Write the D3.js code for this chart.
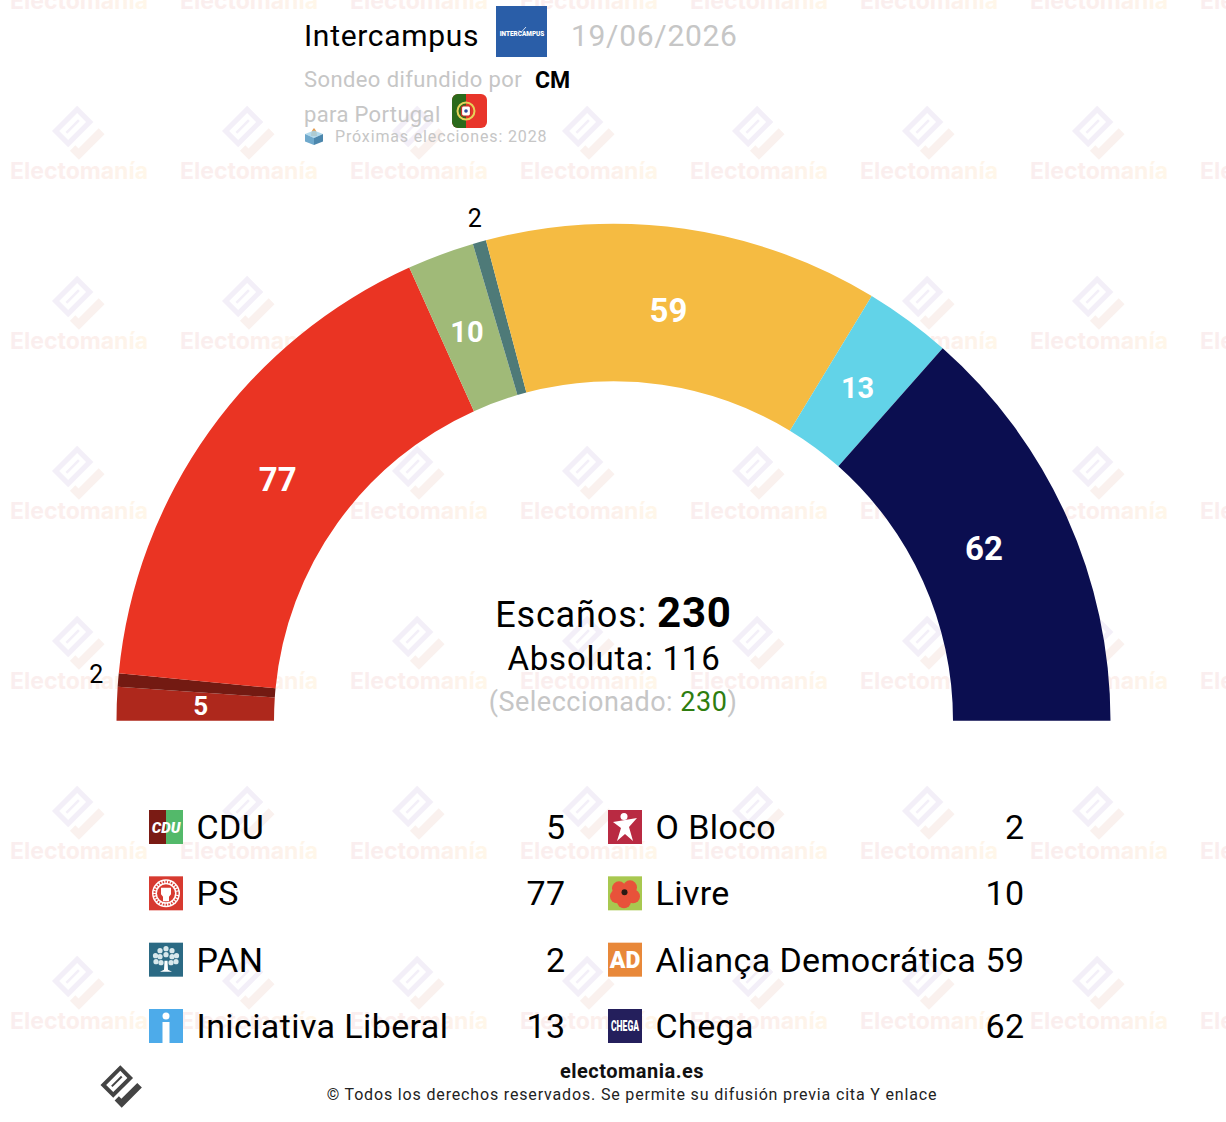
<!DOCTYPE html>
<html>
<head>
<meta charset="utf-8">
<script src="https://cdn.jsdelivr.net/npm/d3@7"></script>
<style>
  body { margin: 0; background: #fff; }
  svg { display: block; }
  text { font-family: Roboto, sans-serif; }
</style>
</head>
<body>
<div id="chart"></div>
<script>
// seats, in the order they sit on the arc
var parties = ["CDU", "O Bloco", "PS", "Livre", "PAN", "Aliança Democrática", "Iniciativa Liberal", "Chega"];
var seats = [5, 2, 77, 10, 2, 59, 13, 62];
var colours = ["#ae281c", "#731a12", "#ea3423", "#a0ba78", "#4e7a78", "#f5bb42", "#62d3e8", "#0b0e50"];

var totalSeats = 230;
var majority = 116;
var selected = 230;
var pollster = "Intercampus";
var pollDate = "19/06/2026";
var sponsor = "CM";
var nextElection = "2028";

var svg = d3.select("#chart").append("svg")
    .attr("width", 1226)
    .attr("height", 1122);

var defs = svg.append("defs");
var markGrad = defs.append("linearGradient").attr("id", "markGrad");
markGrad.append("stop").attr("offset", "0%").attr("stop-color", "#faeeef");
markGrad.append("stop").attr("offset", "60%").attr("stop-color", "#fcefec");
markGrad.append("stop").attr("offset", "100%").attr("stop-color", "#fff7e9");

// electomania logo, drawn along its own rotated axes
function drawLogo(g, frame, tick) {
    var r = g.append("g").attr("transform", "rotate(-45)");
    r.append("path")
        .attr("fill-rule", "evenodd")
        .attr("fill", frame)
        .attr("d", "M0,0H28V18H0Z M4,4V14H24V4Z");
    r.append("rect").attr("x", 7).attr("y", 8).attr("width", 14).attr("height", 2).attr("fill", frame);
    r.append("path").attr("fill", tick).attr("d", "M-1,21H5V24.5H27.5V31H-1Z");
}

// watermark grid
var markCols = d3.range(0, 8);
var markRows = d3.range(-1, 6);
var wm = svg.append("g");
markRows.forEach(function(row) {
    markCols.forEach(function(col) {
        var x = 79 + col * 170;
        var y = 171 + row * 170;
        var logo = wm.append("g").attr("transform", "translate(" + (x - 27) + "," + (y - 40) + ") scale(1.27)");
        drawLogo(logo, "#f3eff8", "#faf1ee");
        wm.append("text")
            .attr("x", x)
            .attr("y", y + 8)
            .attr("text-anchor", "middle")
            .attr("font-size", 23)
            .attr("font-weight", 700)
            .style("font-family", "Inter, sans-serif")
            .attr("fill", "url(#markGrad)")
            .text("Electomanía");
    });
});

// header
var header = svg.append("g");
header.append("text").attr("x", 304).attr("y", 46).attr("font-size", 30).attr("letter-spacing", 0.7).attr("fill", "#000").text(pollster);
header.append("rect").attr("x", 496).attr("y", 6).attr("width", 51).attr("height", 51).attr("fill", "#2a5ea8");
header.append("path").attr("d", "M519,30.5L521,32.5L526,27").attr("fill", "none").attr("stroke", "#fff").attr("stroke-width", 0.8);
header.append("text").attr("x", 522).attr("y", 36).attr("text-anchor", "middle").attr("font-size", 6.4).attr("font-weight", 900).attr("fill", "#fff").text("INTERCAMPUS");
header.append("text").attr("x", 571).attr("y", 46).attr("font-size", 30).attr("letter-spacing", 0.7).attr("fill", "#c6c6c6").text(pollDate);
header.append("text").attr("x", 304).attr("y", 87).attr("font-size", 22).attr("letter-spacing", 0.4).attr("fill", "#c6c6c6").text("Sondeo difundido por");
header.append("text").attr("x", 535).attr("y", 88).attr("font-size", 23).attr("font-weight", 700).attr("fill", "#000").text(sponsor);
header.append("text").attr("x", 304).attr("y", 122).attr("font-size", 22).attr("letter-spacing", 0.35).attr("fill", "#c6c6c6").text("para Portugal");
header.append("text").attr("x", 335).attr("y", 142).attr("font-size", 16).attr("letter-spacing", 0.85).attr("fill", "#c6c6c6").text("Próximas elecciones: " + nextElection);

// flag
var flag = header.append("g").attr("transform", "translate(452,94)");
flag.append("rect").attr("width", 35).attr("height", 34).attr("rx", 6).attr("fill", "#e8352a");
flag.append("path").attr("d", "M14,0H6A6,6 0 0 0 0,6V28A6,6 0 0 0 6,34H14Z").attr("fill", "#2b6a1c");
flag.append("circle").attr("cx", 14).attr("cy", 17).attr("r", 8.5).attr("fill", "none").attr("stroke", "#e6d35a").attr("stroke-width", 2);
flag.append("rect").attr("x", 9.5).attr("y", 12).attr("width", 9).attr("height", 10).attr("rx", 2).attr("fill", "#fff").attr("stroke", "#c8302a").attr("stroke-width", 1.2);
flag.append("circle").attr("cx", 14).attr("cy", 17).attr("r", 1.8).attr("fill", "#2c4a9a");

// ballot box
var box = header.append("g").attr("transform", "translate(305,127)");
box.append("path").attr("d", "M9,1C11.5,4 12,6 12,9H6C6,6 6.5,4 9,1Z").attr("fill", "#e49a4c");
box.append("path").attr("d", "M0,7L9,3.5L18,7L9,11Z").attr("fill", "#a5d3ea").attr("fill-opacity", 0.85);
box.append("path").attr("d", "M0,7L9,11V18L0,14.5Z").attr("fill", "#6fa9cc");
box.append("path").attr("d", "M18,7L9,11V18L18,14.5Z").attr("fill", "#4c87ad");

// parliament arc
var cx = 613.5, cy = 720.7;
var outerR = 497, innerR = 339.5, labelR = 413, outsideR = 522;

var colour = d3.scaleOrdinal(parties, colours);
var pie = d3.pie()
    .sort(null)
    .value(function(d) { return d.seats; })
    .startAngle(-Math.PI / 2)
    .endAngle(Math.PI / 2);
var arc = d3.arc().innerRadius(innerR).outerRadius(outerR);

var rows = parties.map(function(p, i) { return { party: p, seats: seats[i] }; });
var slices = pie(rows);

var chart = svg.append("g").attr("transform", "translate(" + cx + "," + cy + ")");
chart.selectAll("path")
    .data(slices)
    .enter()
    .append("path")
    .attr("d", arc)
    .attr("fill", function(d) { return colour(d.data.party); });

var labelSize = d3.scaleThreshold().domain([10, 20]).range([26, 29, 33]);
// small nudges, the original labels are not quite on the slice middle
var labelShift = {
    "O Bloco": [3, -3],
    "Livre": [-3, -1],
    "PAN": [2, 1],
    "Aliança Democrática": [-4, -1],
    "Iniciativa Liberal": [-1, 0],
    "Chega": [-6, -2]
};

chart.selectAll("text")
    .data(slices)
    .enter()
    .append("text")
    .attr("transform", function(d) {
        var mid = (d.startAngle + d.endAngle) / 2;
        var r = d.data.seats <= 2 ? outsideR : labelR;
        var shift = labelShift[d.data.party] || [0, 0];
        return "translate(" + (r * Math.sin(mid) + shift[0]) + "," + (-r * Math.cos(mid) + shift[1]) + ")";
    })
    .attr("text-anchor", "middle")
    .attr("dy", "0.32em")
    .attr("font-size", function(d) { return d.data.seats <= 2 ? 25 : labelSize(d.data.seats); })
    .attr("font-weight", function(d) { return d.data.seats <= 2 ? 400 : 700; })
    .attr("fill", function(d) { return d.data.seats <= 2 ? "#000" : "#fff"; })
    .text(function(d) { return d.data.seats; });

// centre text
var centre = svg.append("g").attr("text-anchor", "middle");
var t1 = centre.append("text").attr("x", 613.5).attr("y", 627).attr("font-size", 36).attr("letter-spacing", 0.85).attr("fill", "#000");
t1.append("tspan").text("Escaños: ");
t1.append("tspan").attr("font-size", 42).attr("font-weight", 700).text(totalSeats);
centre.append("text").attr("x", 614).attr("y", 670).attr("font-size", 33).attr("letter-spacing", 0.8).attr("fill", "#000").text("Absoluta: " + majority);
var t3 = centre.append("text").attr("x", 613).attr("y", 711).attr("font-size", 27).attr("letter-spacing", 0.5).attr("fill", "#c6c6c6");
t3.append("tspan").text("(Seleccionado: ");
t3.append("tspan").attr("fill", "#2e7d0f").text(selected);
t3.append("tspan").text(")");

// party badges for the legend, 34 x 34
var badges = {
    "CDU": function(g) {
        g.append("rect").attr("width", 17).attr("height", 34).attr("fill", "#7a1b14");
        g.append("rect").attr("x", 17).attr("width", 17).attr("height", 34).attr("fill", "#53b96a");
        g.append("text").attr("x", 17).attr("y", 22.5).attr("text-anchor", "middle").attr("font-size", 15).attr("font-weight", 900).attr("font-style", "italic").attr("fill", "#fff").text("CDU");
    },
    "PS": function(g) {
        g.append("rect").attr("width", 34).attr("height", 34).attr("fill", "#d73a30");
        g.append("circle").attr("cx", 17).attr("cy", 17).attr("r", 14).attr("fill", "#fff");
        g.append("circle").attr("cx", 17).attr("cy", 17).attr("r", 11.5).attr("fill", "none").attr("stroke", "#d73a30").attr("stroke-width", 2).attr("stroke-dasharray", "1.6 1.2");
        g.append("circle").attr("cx", 17).attr("cy", 17).attr("r", 9).attr("fill", "#d73a30");
        g.append("path").attr("d", "M12,11.5H22V18L20,20.5V25H14V20.5L12,18Z").attr("fill", "#fff");
    },
    "PAN": function(g) {
        g.append("rect").attr("width", 34).attr("height", 34).attr("fill", "#2b6a84");
        g.append("path").attr("d", "M15.5,18H18.5L19,27L23,29H11L15,27Z").attr("fill", "#fff");
        [[17, 6], [11, 8], [23, 8], [6.5, 13], [27.5, 13], [11, 14], [23, 14], [17, 12], [7, 19], [27, 19], [12, 20], [22, 20]].forEach(function(p) {
            g.append("circle").attr("cx", p[0]).attr("cy", p[1]).attr("r", 2.6).attr("fill", "#d8e8ec");
        });
    },
    "Iniciativa Liberal": function(g) {
        g.append("rect").attr("width", 34).attr("height", 34).attr("fill", "#4dabea");
        g.append("circle").attr("cx", 17).attr("cy", 7).attr("r", 3.5).attr("fill", "#fff");
        g.append("rect").attr("x", 13.5).attr("y", 13).attr("width", 7).attr("height", 21).attr("fill", "#fff");
    },
    "O Bloco": function(g) {
        g.append("rect").attr("width", 34).attr("height", 34).attr("fill", "#b92a42");
        g.append("circle").attr("cx", 16).attr("cy", 6.5).attr("r", 3.5).attr("fill", "#fff");
        g.append("path").attr("d", "M5,12L29,8L21,17L25,31L17,24L9,31L13,18Z").attr("fill", "#fff");
    },
    "Livre": function(g) {
        g.append("rect").attr("width", 34).attr("height", 34).attr("fill", "#a8c850");
        [[11, 12], [22, 11], [25, 20], [16, 25], [9, 20]].forEach(function(p) {
            g.append("circle").attr("cx", p[0]).attr("cy", p[1]).attr("r", 7).attr("fill", "#e8523a");
        });
        g.append("circle").attr("cx", 16.5).attr("cy", 16).attr("r", 3).attr("fill", "#2a1a14");
    },
    "Aliança Democrática": function(g) {
        g.append("rect").attr("width", 34).attr("height", 34).attr("fill", "#e8883a");
        g.append("text").attr("x", 17).attr("y", 25).attr("text-anchor", "middle").attr("font-size", 23).attr("font-weight", 900).attr("fill", "#fff").text("AD");
    },
    "Chega": function(g) {
        g.append("rect").attr("width", 34).attr("height", 34).attr("fill", "#241f5c");
        g.append("text").attr("transform", "translate(17,22) scale(0.78,1.3)").attr("text-anchor", "middle").attr("font-size", 11).attr("font-weight", 900).attr("fill", "#fff").text("CHEGA");
    }
};

// legend, two columns filled left then right along the arc order
var rowY = d3.scalePoint().domain([0, 1, 2, 3]).range([810, 1009]);
var colX = [
    { icon: 149, name: 196.5, value: 565.5 },
    { icon: 608, name: 655.5, value: 1024.5 }
];

var legend = svg.append("g").selectAll("g")
    .data(rows)
    .enter()
    .append("g")
    .attr("transform", function(d, i) { return "translate(0," + rowY(Math.floor(i / 2)) + ")"; });

legend.each(function(d, i) {
    var g = d3.select(this);
    var c = colX[i % 2];
    badges[d.party](g.append("g").attr("transform", "translate(" + c.icon + ",0)"));
    g.append("text").attr("x", c.name).attr("y", 29).attr("font-size", 34).attr("letter-spacing", 0.4).attr("fill", "#000").text(d.party);
    g.append("text").attr("x", c.value).attr("y", 29).attr("text-anchor", "end").attr("font-size", 34).attr("letter-spacing", 0.4).attr("fill", "#000").text(d.seats);
});

// footer
drawLogo(svg.append("g").attr("transform", "translate(100.5,1085)"), "#444", "#444");
svg.append("text").attr("x", 632).attr("y", 1078).attr("text-anchor", "middle").attr("font-size", 20).attr("font-weight", 700).attr("letter-spacing", 0.5).attr("fill", "#111").text("electomania.es");
svg.append("text").attr("x", 632).attr("y", 1100).attr("text-anchor", "middle").attr("font-size", 16).attr("letter-spacing", 0.84).attr("fill", "#222").text("© Todos los derechos reservados. Se permite su difusión previa cita Y enlace");
</script>
</body>
</html>
